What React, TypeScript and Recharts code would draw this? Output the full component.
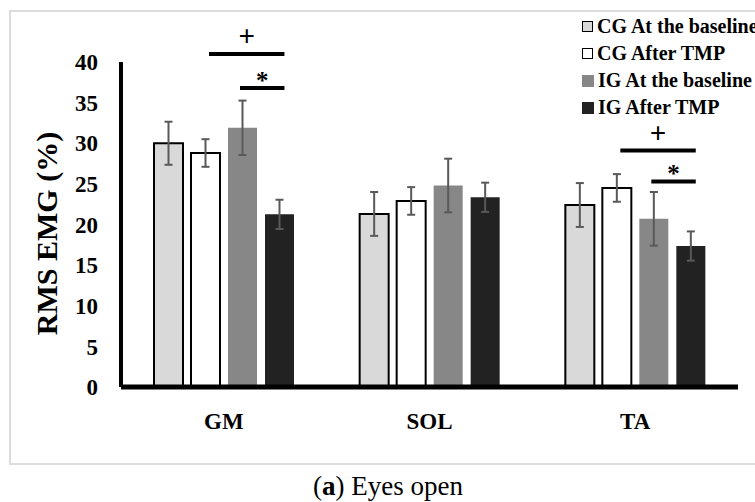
import React from 'react'
import { BarChart, Bar, XAxis, YAxis, ErrorBar, Legend } from 'recharts'

const categories = ['GM', 'SOL', 'TA']
const cgBaseline = [30.0, 21.3, 22.4]
const cgBaselineErr = [2.65, 2.7, 2.7]
const cgAfter = [28.8, 22.9, 24.5]
const cgAfterErr = [1.7, 1.7, 1.7]
const igBaseline = [31.9, 24.8, 20.7]
const igBaselineErr = [3.35, 3.3, 3.3]
const igAfter = [21.25, 23.35, 17.35]
const igAfterErr = [1.8, 1.8, 1.8]
const yTicks = [0, 5, 10, 15, 20, 25, 30, 35, 40]

// significance bars drawn above the groups (y in %), null = none
const plusLevel = [41.0, null, 29.1]
const starLevel = [36.8, null, 25.3]

const data = categories.map((name, i) => ({
  name,
  cgBaseline: cgBaseline[i],
  cgBaselineErr: cgBaselineErr[i],
  cgAfter: cgAfter[i],
  cgAfterErr: cgAfterErr[i],
  igBaseline: igBaseline[i],
  igBaselineErr: igBaselineErr[i],
  igAfter: igAfter[i],
  igAfterErr: igAfterErr[i],
}))

const FONT = '"Liberation Serif", "Times New Roman", serif'

const legendItems = [
  { label: 'CG At the baseline', fill: '#d9d9d9', stroke: '#000' },
  { label: 'CG After TMP', fill: '#ffffff', stroke: '#000' },
  { label: 'IG At the baseline', fill: '#878787', stroke: 'none' },
  { label: 'IG After TMP', fill: '#222222', stroke: 'none' },
]

function renderLegend() {
  return (
    <div style={{ fontFamily: FONT, fontWeight: 700, fontSize: 20, color: '#000', whiteSpace: 'nowrap' }}>
      {legendItems.map((it) => (
        <div key={it.label} style={{ display: 'flex', alignItems: 'center', height: 27 }}>
          <span
            style={{
              display: 'inline-block',
              width: it.stroke === 'none' ? 12 : 9,
              height: it.stroke === 'none' ? 12 : 9,
              background: it.fill,
              border: it.stroke === 'none' ? 'none' : '1.5px solid #000',
              marginRight: 4,
            }}
          />
          <span>{it.label}</span>
        </div>
      ))}
    </div>
  )
}

function renderSig(props: any) {
  const vb = props.viewBox ?? props
  const i = props.index ?? igAfter.indexOf(Number(props.value))
  const plus = plusLevel[i]
  const star = starLevel[i]
  if (plus == null || star == null) return null
  const v = Number(props.value)
  const perUnit = vb.height / v
  const base = vb.y + vb.height
  const yPlus = base - plus * perUnit
  const yStar = base - star * perUnit
  const right = vb.x + vb.width * 0.67
  const left1 = vb.x - 56
  const left2 = vb.x - 25
  return (
    <g>
      <line x1={left1} x2={right} y1={yPlus} y2={yPlus} stroke="#000" strokeWidth={4} />
      <text x={(left1 + right) / 2} y={yPlus - 8} textAnchor="middle" fontFamily={FONT} fontWeight={700} fontSize={29} fill="#000">+</text>
      <line x1={left2} x2={right} y1={yStar} y2={yStar} stroke="#000" strokeWidth={4} />
      <text x={(left2 + right) / 2} y={yStar + 1} textAnchor="middle" fontFamily={FONT} fontWeight={700} fontSize={25} fill="#000">*</text>
    </g>
  )
}

function renderYLabel(props: any) {
  const vb = props.viewBox
  const cx = vb.x - 15
  const cy = vb.y + vb.height / 2 + 9
  return (
    <text
      x={cx}
      y={cy}
      transform={`rotate(-90 ${cx} ${cy})`}
      textAnchor="middle"
      dominantBaseline="central"
      fontFamily={FONT}
      fontWeight={700}
      fontSize={30}
      fill="#000"
    >
      RMS EMG (%)
    </text>
  )
}

export default function App() {
  return (
    <div style={{ position: 'absolute', left: 0, top: 0, width: 755, height: 502, overflow: 'hidden', background: '#fff' }}>
      <div
        style={{
          position: 'absolute', left: 9, top: 10, width: 770, height: 455,
          border: '2px solid #dcdcdc', boxSizing: 'border-box',
        }}
      />
      <div style={{ position: 'absolute', left: 0, top: 0 }}>
        <BarChart width={755} height={470} data={data} barSize={29} barGap={8}
          margin={{ top: 62, right: 17, bottom: 33, left: 61 }}>
          <XAxis
            dataKey="name"
            height={50}
            axisLine={{ stroke: '#000', strokeWidth: 5 }}
            tickLine={false}
            tickMargin={20}
            tick={{ fontFamily: FONT, fontWeight: 700, fontSize: 23, fill: '#000' }}
          />
          <YAxis
            width={60}
            domain={[0, 40]}
            ticks={yTicks}
            interval={0}
            axisLine={{ stroke: '#000', strokeWidth: 4 }}
            tickLine={false}
            tickMargin={17}
            tick={{ fontFamily: FONT, fontWeight: 700, fontSize: 23, fill: '#000' }}
            label={renderYLabel}
          />
          <Legend content={renderLegend} layout="horizontal" verticalAlign="middle" align="center"
            wrapperStyle={{ left: 582, top: 13, width: 220, height: 110 }} />
          <Bar dataKey="cgBaseline" fill="#d9d9d9" stroke="#000" strokeWidth={2} isAnimationActive={false}>
            <ErrorBar dataKey="cgBaselineErr" width={4} stroke="#595959" strokeWidth={2} />
          </Bar>
          <Bar dataKey="cgAfter" fill="#ffffff" stroke="#000" strokeWidth={2} isAnimationActive={false}>
            <ErrorBar dataKey="cgAfterErr" width={4} stroke="#595959" strokeWidth={2} />
          </Bar>
          <Bar dataKey="igBaseline" fill="#878787" isAnimationActive={false}>
            <ErrorBar dataKey="igBaselineErr" width={4} stroke="#595959" strokeWidth={2} />
          </Bar>
          <Bar dataKey="igAfter" fill="#222222" isAnimationActive={false} label={renderSig}>
            <ErrorBar dataKey="igAfterErr" width={4} stroke="#595959" strokeWidth={2} />
          </Bar>
        </BarChart>
      </div>
      <div
        style={{
          position: 'absolute', left: 0, top: 474, width: 776, textAlign: 'center',
          fontFamily: FONT, fontSize: 27, lineHeight: '25px', color: '#000',
        }}
      >
        (<b>a</b>) Eyes open
      </div>
    </div>
  )
}
